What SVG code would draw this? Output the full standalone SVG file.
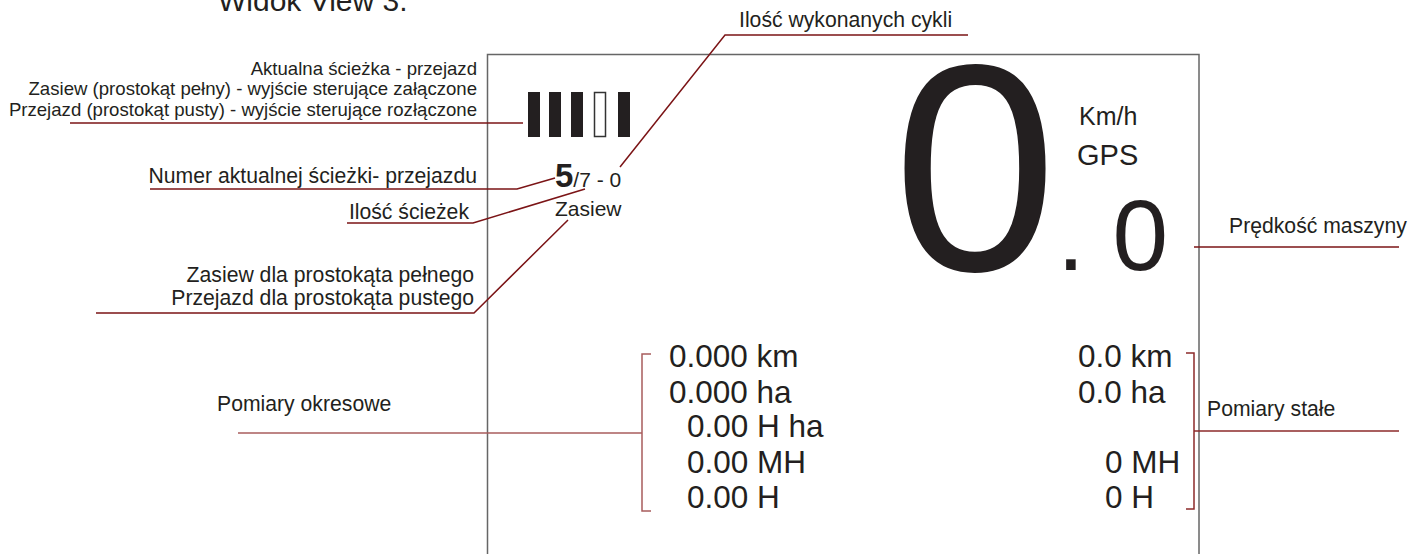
<svg xmlns="http://www.w3.org/2000/svg" width="1410" height="554" viewBox="0 0 1410 554">
<style>
text{font-family:"Liberation Sans",Arial,sans-serif;fill:#231f20}
.lbl{font-size:21.2px}
.lblr{font-size:21.2px;text-anchor:end}
.sm{font-size:18.6px;text-anchor:end}
.val{font-size:31.5px}
.ld{fill:none;stroke:#7b1416;stroke-width:1.5}
.ll{fill:none;stroke:#a85c5c;stroke-width:1.5}
.lr{fill:none;stroke:#8c2a2a;stroke-width:1.5}
.bar{fill:#231f20}
</style>
<rect width="1410" height="554" fill="#fff"/>
<text id="title" x="218" y="11" style="font-size:30px">Widok View 3.</text>
<g id="frame"><rect x="487.5" y="54.5" width="711.5" height="520" fill="none" stroke="#666" stroke-width="1.5"/></g>
<g id="connectors">
<polyline class="ld" points="70,123 523,123"/>
<polyline class="ld" points="150,189 517,189 555,178"/>
<polyline class="ld" points="347,223 473,223 585,189"/>
<polyline class="ld" points="96,313 474,313 568,220"/>
<polyline class="ld" points="968,35 725,35 620,167"/>
<polyline class="ld" points="1194,247 1399,247"/>
<polyline class="ll" points="238,433 642,433"/>
<path class="ll" d="M651,354 H642 V511 H651"/>
<polyline class="lr" points="1194,431 1399,431"/>
<path class="lr" d="M1186,353 H1194 V509 H1186"/>
</g>
<g id="label-aktualna">
<text class="sm" x="477" y="75">Aktualna ścieżka - przejazd</text>
<text class="sm" x="477" y="95">Zasiew (prostokąt pełny) - wyjście sterujące załączone</text>
<text class="sm" x="477" y="116">Przejazd (prostokąt pusty) - wyjście sterujące rozłączone</text>
</g>
<g id="label-numer"><text class="lblr" x="477" y="183">Numer aktualnej ścieżki- przejazdu</text></g>
<g id="label-ilosc-sciezek"><text class="lblr" x="469" y="219">Ilość ścieżek</text></g>
<g id="label-zasiew">
<text class="lblr" x="474" y="282">Zasiew dla prostokąta pełnego</text>
<text class="lblr" x="474" y="305">Przejazd dla prostokąta pustego</text>
</g>
<g id="label-cykle"><text class="lbl" x="739" y="27">Ilość wykonanych cykli</text></g>
<g id="label-predkosc"><text class="lbl" x="1229" y="233">Prędkość maszyny</text></g>
<g id="label-okresowe"><text class="lbl" x="217" y="411">Pomiary okresowe</text></g>
<g id="label-stale"><text class="lbl" x="1207" y="416">Pomiary stałe</text></g>
<g id="bars">
<rect class="bar" x="528" y="92" width="12" height="45"/>
<rect class="bar" x="549" y="92" width="12" height="45"/>
<rect class="bar" x="571" y="92" width="12" height="45"/>
<rect x="594.5" y="92.5" width="11" height="44" fill="none" stroke="#333" stroke-width="1.5"/>
<rect class="bar" x="618" y="92" width="12" height="45"/>
</g>
<g id="counter">
<text x="555" y="187"><tspan style="font-size:33px;font-weight:bold">5</tspan><tspan style="font-size:21px">/7 - 0</tspan></text>
<text x="555" y="216" style="font-size:21px">Zasiew</text>
</g>
<g id="speed">
<text x="893" y="270" style="font-size:295px">0</text>
<text x="1057" y="270" style="font-size:100px">. 0</text>
<text x="1079" y="125" style="font-size:25px">Km/h</text>
<text x="1077" y="165" style="font-size:29px">GPS</text>
</g>
<g id="periodic">
<text class="val" x="669" y="367">0.000 km</text>
<text class="val" x="669" y="403">0.000 ha</text>
<text class="val" x="687" y="437">0.00 H ha</text>
<text class="val" x="687" y="473">0.00 MH</text>
<text class="val" x="687" y="508">0.00 H</text>
</g>
<g id="fixed">
<text class="val" x="1078" y="367">0.0 km</text>
<text class="val" x="1078" y="403">0.0 ha</text>
<text class="val" x="1105" y="473">0 MH</text>
<text class="val" x="1105" y="508">0 H</text>
</g>
</svg>
